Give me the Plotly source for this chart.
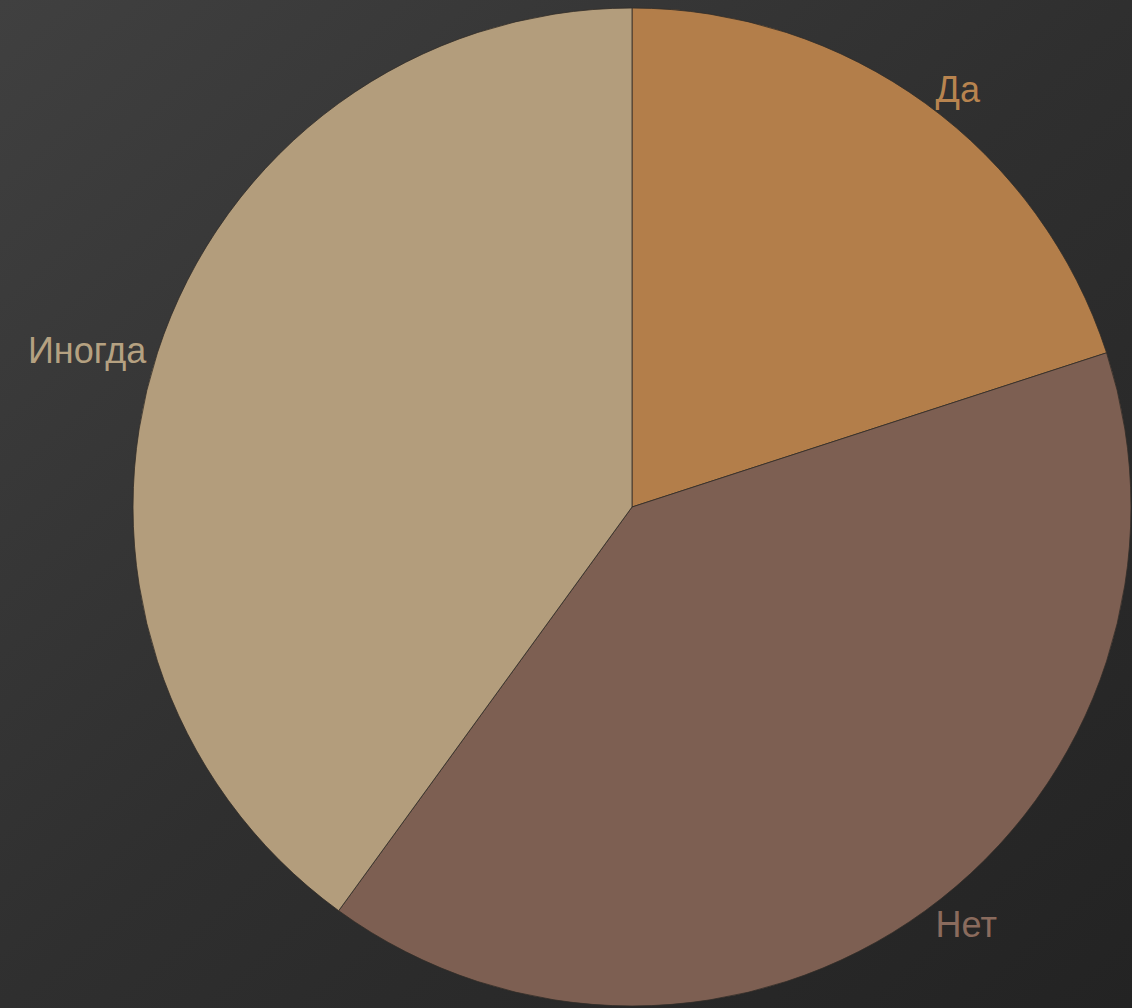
import base64
import plotly.graph_objects as go

labels = ["Да", "Нет", "Иногда"]
values = [20, 40, 40]
colors = ["#b37e4a", "#7d5f52", "#b39d7c"]
label_colors = ["#b8844f", "#8a6b5d", "#b5a181"]

W, H = 1132, 1008

svg = (
    '<svg xmlns="http://www.w3.org/2000/svg" width="1132" height="1008">'
    '<defs><linearGradient id="g" x1="0" y1="0" x2="1" y2="1">'
    '<stop offset="0" stop-color="#404040"/>'
    '<stop offset="0.5" stop-color="#2f2f2f"/>'
    '<stop offset="1" stop-color="#232323"/>'
    '</linearGradient></defs>'
    '<rect width="1132" height="1008" fill="url(#g)"/></svg>'
)
bg_src = "data:image/svg+xml;base64," + base64.b64encode(svg.encode()).decode()

fig = go.Figure(
    go.Pie(
        labels=labels,
        values=values,
        sort=False,
        direction="clockwise",
        rotation=0,
        marker=dict(colors=colors, line=dict(color="rgba(50,45,40,0.8)", width=1)),
        textinfo="label",
        textposition="outside",
        outsidetextfont=dict(family="Liberation Sans, Arial, sans-serif", size=36, color=label_colors),
        hoverinfo="label+percent",
        showlegend=False,
        automargin=False,
        domain=dict(x=[132 / W, 1], y=[2 / H, 1 - 8 / H]),
    )
)

fig.update_layout(
    width=W,
    height=H,
    autosize=False,
    margin=dict(l=0, r=0, t=0, b=0, pad=0, autoexpand=False),
    paper_bgcolor="#2e2e2e",
    plot_bgcolor="#2e2e2e",
    images=[dict(source=bg_src, xref="paper", yref="paper", x=0, y=1,
                 sizex=1, sizey=1, sizing="stretch", layer="below")],
)

fig.write_html(
    "out.html",
    config={"displayModeBar": False, "responsive": False},
    post_script=(
        "document.documentElement.style.margin='0';"
        "document.documentElement.style.overflow='hidden';"
        "document.body.style.margin='0';"
        "document.body.style.overflow='hidden';"
        "document.body.style.background='#2e2e2e';"
    ),
)
